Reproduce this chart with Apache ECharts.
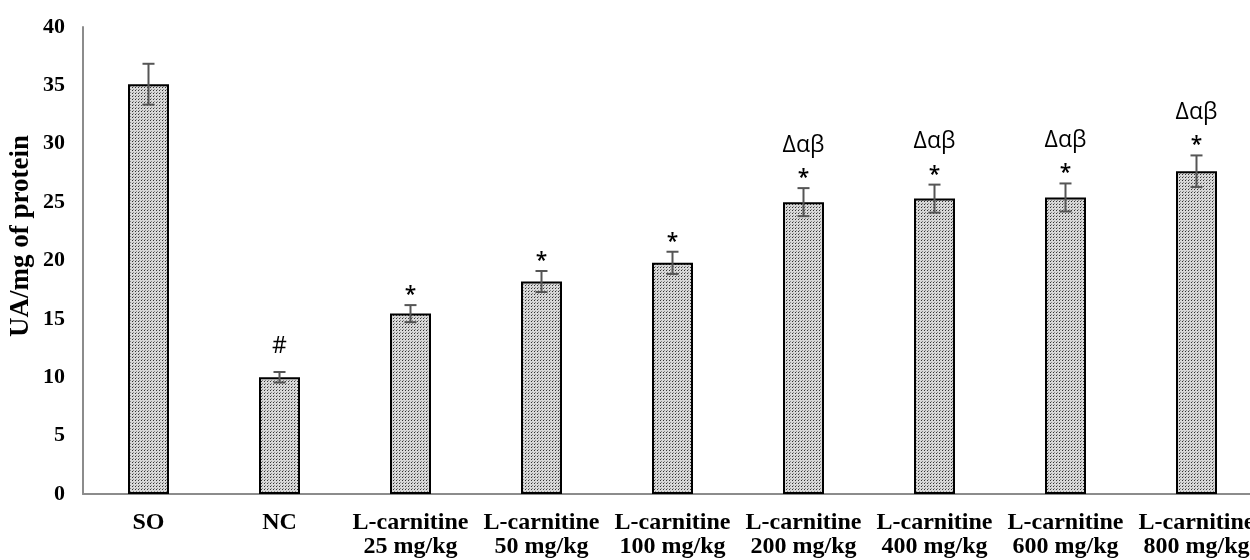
<!DOCTYPE html>
<html><head><meta charset="utf-8">
<script src="https://cdn.jsdelivr.net/npm/echarts@6/dist/echarts.min.js"></script>
<style>html,body{margin:0;padding:0;background:#fff;overflow:hidden;width:1250px;height:560px}#c{width:1262px;height:560px}</style>
</head><body><div id="c"></div>
<script>
const categories = ['SO','NC','L-carnitine\n25 mg/kg','L-carnitine\n50 mg/kg','L-carnitine\n100 mg/kg','L-carnitine\n200 mg/kg','L-carnitine\n400 mg/kg','L-carnitine\n600 mg/kg','L-carnitine\n800 mg/kg'];
const values = [35.1, 10.0, 15.45, 18.2, 19.8, 25.0, 25.3, 25.4, 27.65];
const errors = [1.75, 0.45, 0.73, 0.9, 0.95, 1.2, 1.2, 1.2, 1.35];
const marks = ['', '#', '*', '*', '*', '*', '*', '*', '*'];
const letters = ['', '', '', '', '', 'Δαβ', 'Δαβ', 'Δαβ', 'Δαβ'];
const yAxisTitle = 'UA/mg of protein';

const pc = document.createElement('canvas');
pc.width = 3; pc.height = 3;
const g = pc.getContext('2d');
g.fillStyle = '#d8d8d8'; g.fillRect(0,0,3,3);
g.fillStyle = '#333'; g.fillRect(0,0,1,1);
g.fillStyle = '#888'; g.fillRect(1,2,1,1);

const chart = echarts.init(document.getElementById('c'));
chart.setOption({
  animation: false,
  grid: {left: 83, right: 0, top: 27, bottom: 66},
  graphic: [{
    type: 'text', left: 8, top: 135, rotation: Math.PI / 2,
    style: {text: yAxisTitle, font: 'bold 27px "Liberation Serif"', fill: '#000'}
  }],
  xAxis: {
    type: 'category', data: categories,
    axisLine: {lineStyle: {color: '#8c8c8c', width: 2}},
    axisTick: {show: false},
    axisLabel: {interval: 0, margin: 17, color: '#000', fontFamily: 'Liberation Serif', fontWeight: 'bold', fontSize: 24, lineHeight: 24}
  },
  yAxis: {
    type: 'value', min: 0, max: 40, interval: 5,
    axisLine: {show: true, lineStyle: {color: '#8c8c8c', width: 2}},
    axisTick: {show: false},
    splitLine: {show: false},
    axisLabel: {margin: 18, color: '#000', fontFamily: 'Liberation Serif', fontWeight: 'bold', fontSize: 22}
  },
  series: [{
    type: 'bar', data: values, barWidth: 41,
    itemStyle: {color: {image: pc, repeat: 'repeat'}, borderColor: '#000', borderWidth: 2}
  }, {
    type: 'custom',
    data: values.map((v, i) => [i, v, errors[i]]),
    z: 10,
    renderItem: function (params, api) {
      const i = api.value(0), v = api.value(1), e = api.value(2);
      const top = api.coord([i, v + e]);
      const bot = api.coord([i, v - e]);
      const x = top[0];
      const st = {stroke: '#555', lineWidth: 2};
      const ch = [
        {type: 'line', shape: {x1: x, y1: top[1], x2: x, y2: bot[1]}, style: st},
        {type: 'line', shape: {x1: x - 6, y1: top[1], x2: x + 6, y2: top[1]}, style: st},
        {type: 'line', shape: {x1: x - 6, y1: bot[1], x2: x + 6, y2: bot[1]}, style: st}
      ];
      const m = marks[i];
      if (m === '#') {
        ch.push({type: 'text', style: {text: '#', x: x, y: top[1] - 26, align: 'center', verticalAlign: 'middle', font: '23px "Open Sans"', fill: '#000'}});
      } else if (m) {
        ch.push({type: 'text', style: {text: m, x: x, y: top[1] - 10, align: 'center', verticalAlign: 'middle', font: '600 21px "Open Sans"', fill: '#000'}});
      }
      if (letters[i]) {
        ch.push({type: 'text', style: {text: letters[i], x: x, y: top[1] - 43, align: 'center', verticalAlign: 'middle', font: '23px "Open Sans"', fill: '#000'}});
      }
      return {type: 'group', children: ch};
    }
  }]
});
</script></body></html>
